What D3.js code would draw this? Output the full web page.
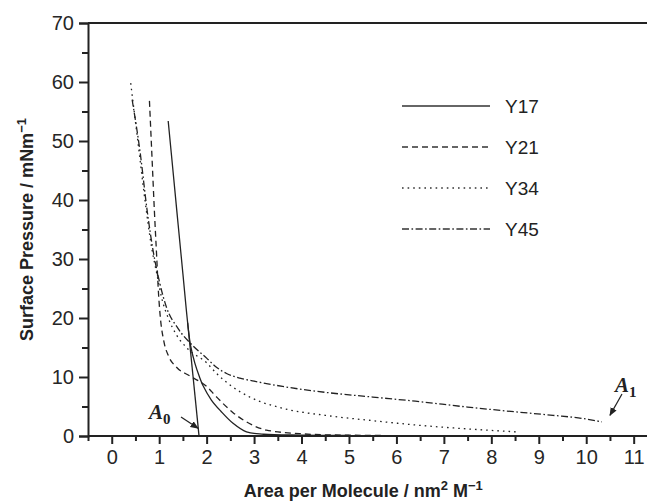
<!DOCTYPE html>
<html>
<head>
<meta charset="utf-8">
<script src="https://cdn.jsdelivr.net/npm/d3@7"></script>
<style>
  body { margin: 0; background: #fff; }
  .tick text { font-family: "Liberation Sans", Arial, sans-serif; font-size: 20px; fill: #262626; }
</style>
</head>
<body>
<div id="chart"></div>
<script>
// Isotherm data: [area, pressure]
var y17 = [[1.19,53.4],[1.3,44.2],[1.4,35.8],[1.5,27.5],[1.6,19.2],[1.66,15.4],[1.75,12.4],[1.85,10.0],
           [1.92,8.6],[2.1,6.1],[2.3,4.2],[2.55,2.2],[2.84,0.7],[3.2,0.3],[4.0,0.15],[5.0,0.1]];
var y17Tangent = [[1.6,19.2],[1.84,0]];
var y21 = [[0.795,56.8],[0.85,47],[0.9,38],[0.95,30],[0.98,25],[1.02,20.5],[1.1,16],[1.2,13.5],
           [1.36,11.7],[1.64,10.2],[2.0,8.4],[2.2,6.7],[2.55,4.0],[2.84,2.4],[3.26,1.0],[3.96,0.4],
           [4.5,0.2],[5.5,0.1],[6.0,0.05]];
var y34 = [[0.40,59.8],[0.55,50],[0.7,40],[0.84,32],[0.95,27.5],[1.05,23.5],[1.2,19.8],[1.36,17.2],
           [1.6,14.8],[2.0,12.4],[2.21,10.6],[2.5,8.6],[2.91,6.6],[3.6,4.7],[4.5,3.5],[5.5,2.6],
           [6.5,1.8],[7.5,1.2],[8.53,0.7]];
var y45 = [[0.43,57],[0.6,48],[0.75,38],[0.87,31.5],[1.01,26],[1.15,21.9],[1.4,18.2],[1.71,15.3],
           [2.0,13.2],[2.2,11.7],[2.42,10.6],[2.7,9.8],[3.0,9.3],[3.6,8.4],[4.5,7.4],[5.5,6.6],
           [6.4,5.9],[7.5,4.9],[8.5,4.1],[9.3,3.5],[9.9,3.0],[10.33,2.4]];

var seriesNames = ["Y17", "Y21", "Y34", "Y45"];
var seriesData = [y17, y21, y34, y45];
var dashes = ["none", "6,4", "1.6,4", "7,2.5,1.6,2.5"];

var xTicks = d3.range(0, 12);
var yTicks = d3.range(0, 80, 10);

// Set the dimensions
var width = 647, height = 503;
var margin = {top: 23, left: 88, bottom: 67};

var x = d3.scaleLinear().domain([-0.5, 11.5]).range([margin.left, margin.left + 12 * 47.45]);
var y = d3.scaleLinear().domain([0, 70]).range([height - margin.bottom, margin.top]);

var svg = d3.select("#chart").append("svg")
    .attr("width", width)
    .attr("height", height);

// Frame top line
svg.append("line")
    .attr("x1", x(-0.5)).attr("x2", width)
    .attr("y1", y(70)).attr("y2", y(70))
    .style("stroke", "#222").style("stroke-width", 2);

// X axis, major + minor ticks
var xAxis = svg.append("g")
    .attr("transform", "translate(0," + y(0) + ")")
    .call(d3.axisBottom(x).tickValues(xTicks).tickSize(8).tickPadding(6).tickFormat(d3.format("d")));
svg.append("g")
    .attr("transform", "translate(0," + y(0) + ")")
    .call(d3.axisBottom(x).tickValues(d3.range(-0.5, 11.6, 1)).tickSize(5).tickFormat(""))
    .select(".domain").remove();
xAxis.select(".domain").attr("d", "M" + x(-0.5) + ",0H" + width);

// Y axis
var yAxis = svg.append("g")
    .attr("transform", "translate(" + x(-0.5) + ",0)")
    .call(d3.axisLeft(y).tickValues(yTicks).tickSize(9).tickPadding(5));
svg.append("g")
    .attr("transform", "translate(" + x(-0.5) + ",0)")
    .call(d3.axisLeft(y).tickValues(d3.range(5, 70, 10)).tickSize(6).tickFormat(""))
    .select(".domain").remove();

svg.selectAll(".domain, .tick line").style("stroke", "#222").style("stroke-width", 2);

// Curves
var line = d3.line()
    .x(function(d) { return x(d[0]); })
    .y(function(d) { return y(d[1]); })
    .curve(d3.curveMonotoneX);

seriesData.forEach(function(s, i) {
    svg.append("path")
        .datum(s)
        .attr("d", i == 0 ? d3.line().x(function(d) { return x(d[0]); }).y(function(d) { return y(d[1]); }).curve(d3.curveCatmullRom)(s) : line(s))
        .style("fill", "none")
        .style("stroke", "#222")
        .style("stroke-width", 1.3)
        .style("stroke-dasharray", dashes[i]);
});
svg.append("path")
    .attr("d", d3.line().x(function(d) { return x(d[0]); }).y(function(d) { return y(d[1]); })(y17Tangent))
    .style("fill", "none").style("stroke", "#222").style("stroke-width", 1.3);

// Legend
seriesNames.forEach(function(name, i) {
    var ly = 106 + i * 41;
    svg.append("line")
        .attr("x1", 402).attr("x2", 490)
        .attr("y1", ly).attr("y2", ly)
        .style("stroke", "#333").style("stroke-width", 1.3)
        .style("stroke-dasharray", dashes[i]);
    svg.append("text")
        .attr("x", 505).attr("y", ly + 7)
        .style("font-family", "Liberation Sans, Arial, sans-serif")
        .style("font-size", "19px")
        .style("fill", "#222")
        .text(name);
});

// Annotations A0 and A1
var defs = svg.append("defs");
defs.append("marker").attr("id", "arrow")
    .attr("viewBox", "0 0 10 10").attr("refX", 9).attr("refY", 5)
    .attr("markerWidth", 7).attr("markerHeight", 7).attr("orient", "auto")
    .append("path").attr("d", "M0,1 L10,5 L0,9 Z").style("fill", "#222");

function annot(label, tx, ty, ax1, ay1, ax2, ay2) {
    var t = svg.append("text")
        .attr("x", tx).attr("y", ty)
        .style("font-family", "Liberation Serif, Times New Roman, serif")
        .style("font-size", "21px").style("font-weight", "bold")
        .style("fill", "#222");
    t.append("tspan").style("font-style", "italic").text("A");
    t.append("tspan").attr("dy", 5).style("font-size", "15px").text(label);
    svg.append("line")
        .attr("x1", ax1).attr("y1", ay1).attr("x2", ax2).attr("y2", ay2)
        .style("stroke", "#222").style("stroke-width", 1.2)
        .attr("marker-end", "url(#arrow)");
}
annot("0", 149, 419, 181, 417, x(1.82), y(1.3));
annot("1", 615, 392, 622, 394, x(10.5), y(3.5));

// Axis titles
svg.append("text")
    .attr("x", x(5.3)).attr("y", 497)
    .attr("text-anchor", "middle")
    .style("font-family", "Liberation Sans, Arial, sans-serif")
    .style("font-size", "18px").style("font-weight", "bold").style("fill", "#222")
    .html('Area per Molecule / nm<tspan dy="-7" font-size="13">2</tspan><tspan dy="7"> M</tspan><tspan dy="-7" font-size="13">\u22121</tspan>');
svg.append("text")
    .attr("transform", "translate(33," + y(35) + ") rotate(-90)")
    .attr("text-anchor", "middle")
    .style("font-family", "Liberation Sans, Arial, sans-serif")
    .style("font-size", "18px").style("font-weight", "bold").style("fill", "#222")
    .html('Surface Pressure / mNm<tspan dy="-7" font-size="13">\u22121</tspan>');
</script>
</body>
</html>
